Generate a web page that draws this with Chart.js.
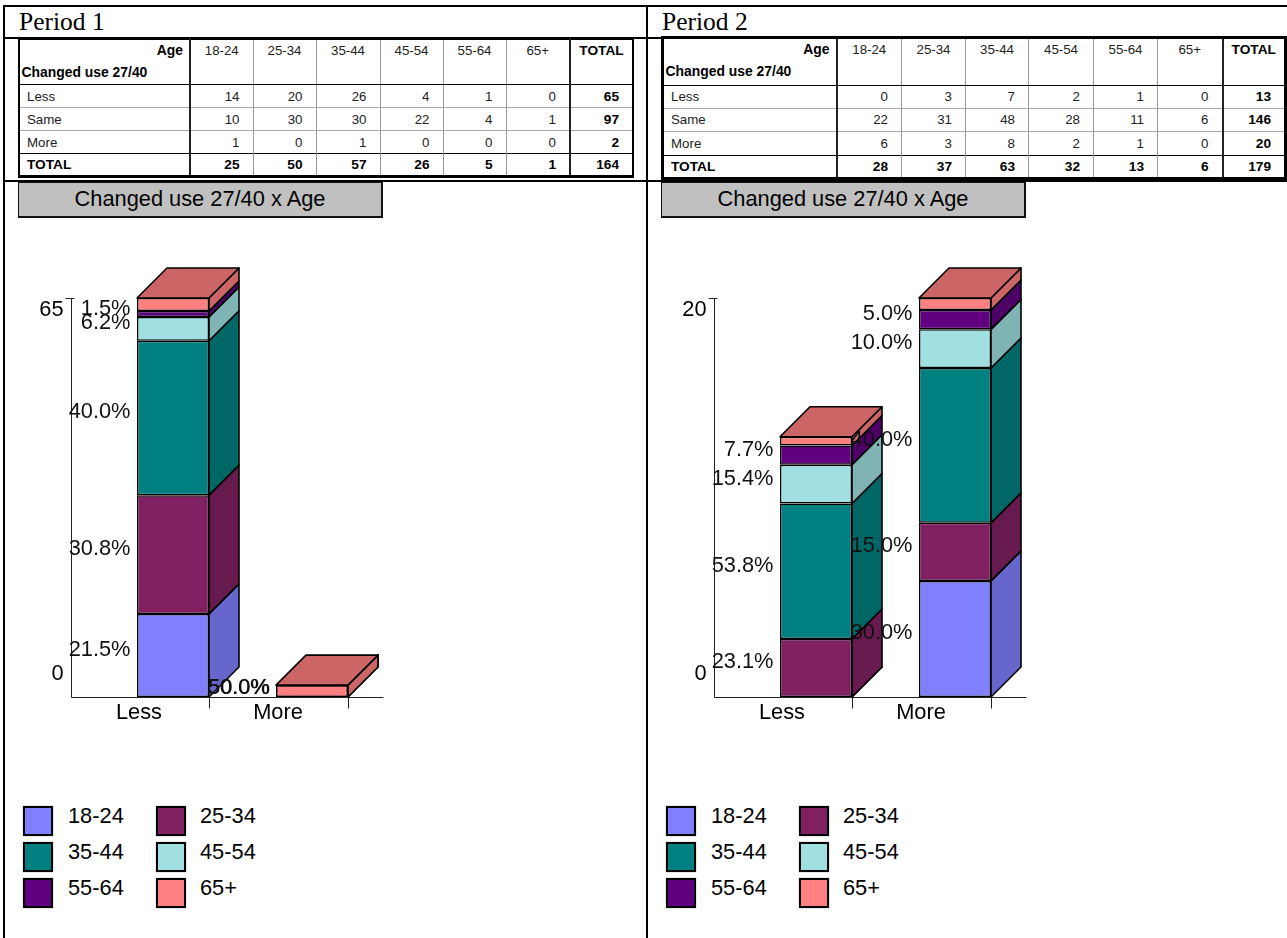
<!DOCTYPE html>
<html>
<head>
<meta charset="utf-8">
<title>Changed use 27/40 x Age</title>
<script src="https://cdn.jsdelivr.net/npm/chart.js@4"></script>
<style>
  html, body { margin: 0; padding: 0; background: #fff; overflow: hidden; }
  body { width: 1287px; height: 938px; position: relative; font-family: "Liberation Sans", Arial, sans-serif; color: #000; }
  .rule { position: absolute; background: #000; }
  .period { position: absolute; top: 8px; font: 25.5px/28px "Liberation Serif", serif; }
  .banner { position: absolute; top: 182px; width: 362px; height: 33px; background: #c0c0c0; border: 1.5px solid #111; border-right-width: 2px; border-bottom-width: 2px;
            font-size: 21.8px; line-height: 31px; text-align: center; }
  canvas { position: absolute; top: 230px; }
  table { position: absolute; border-collapse: collapse; table-layout: fixed; border: 2px solid #000; border-bottom-width: 3px; font-size: 13.3px; color: #222; }
  table.heavy { border-width: 3px; }
  td { padding: 0 13px 0 0; text-align: right; border-left: 1px solid #999; border-top: 1px solid #aaa; white-space: nowrap; overflow: hidden; }
  td:first-child { text-align: left; padding-left: 7px; border-left: 0; }
  td:last-child { border-left: 2px solid #222; font-weight: bold; font-size: 13.7px; color: #000; }
  td:nth-child(2) { border-left: 2px solid #222; }
  tr.head td { text-align: center; padding: 3px 0 0; vertical-align: top; border-top: 0; border-bottom: 1.5px solid #000; }
  tr.head td:first-child { text-align: left; padding: 3px 6px 0 1.5px; font-weight: bold; font-size: 13.9px; line-height: 15px; color: #000; }
  tr.head .age { text-align: right; margin-bottom: 7px; }
  tr.sum td { font-weight: bold; font-size: 13.7px; color: #000; border-top: 1.5px solid #000; }
  .key { position: absolute; width: 26px; height: 26px; border: 2px solid #000; box-shadow: 0 0 1px #777; }
  .keytext { position: absolute; font-size: 21.8px; line-height: 24px; }
</style>
</head>
<body>
<div class="rule" style="left:3px;top:5px;width:1284px;height:2px"></div>
<div class="rule" style="left:3px;top:37px;width:1284px;height:2px"></div>
<div class="rule" style="left:3px;top:180px;width:1284px;height:2px"></div>
<div class="rule" style="left:3px;top:5px;width:2px;height:933px"></div>
<div class="rule" style="left:646px;top:5px;width:2px;height:933px"></div>

<div class="period" style="left:19px">Period 1</div>
<div class="period" style="left:662px">Period 2</div>
<div class="banner" style="left:18px">Changed use 27/40 x Age</div>
<div class="banner" style="left:661px">Changed use 27/40 x Age</div>
<canvas id="period1" width="400" height="500" style="left:10px"></canvas>
<canvas id="period2" width="400" height="500" style="left:653px"></canvas>

<script>
const ageGroups = ["18-24", "25-34", "35-44", "45-54", "55-64", "65+"];
const useCategories = ["Less", "More"];

// counts per age group, last column is the row total
const p1Less = [14, 20, 26, 4, 1, 0, 65];
const p1Same = [10, 30, 30, 22, 4, 1, 97];
const p1More = [1, 0, 1, 0, 0, 0, 2];
const p1Total = [25, 50, 57, 26, 5, 1, 164];

const p2Less = [0, 3, 7, 2, 1, 0, 13];
const p2Same = [22, 31, 48, 28, 11, 6, 146];
const p2More = [6, 3, 8, 2, 1, 0, 20];
const p2Total = [28, 37, 63, 32, 13, 6, 179];

// 65+ has no counts but is still drawn as a thin slab: [from, to] for Less and More
const p1Slab = [[65, 67.2], [0, 2]];
const p2Slab = [[13, 13.45], [20, 20.62]];

const p1AxisMax = 67.2;
const p2AxisMax = 20.62;
const p1AxisLabels = ["0", "65"];
const p2AxisLabels = ["0", "20"];

const frontColors = ["#8080ff", "#802060", "#008080", "#a0e0e0", "#600080", "#ff8080"];
const sideColors = ["#6666cc", "#661a4d", "#006666", "#80b3b3", "#4d0066", "#cc6666"];
const DEPTH = 30;
const LABEL_FONT = '21.8px "Liberation Sans"';

Chart.defaults.font.family = '"Liberation Sans"';
Chart.defaults.color = "#000";

function face(ctx, points, fill) {
  ctx.beginPath();
  points.forEach((p, i) => (i ? ctx.lineTo(p[0], p[1]) : ctx.moveTo(p[0], p[1])));
  ctx.closePath();
  ctx.fillStyle = fill;
  ctx.fill();
  ctx.stroke();
}

// axis lines and the tick marks under each bar
const axesPlugin = {
  id: "axes",
  beforeDatasetsDraw(chart, args, opts) {
    const { ctx, chartArea } = chart;
    const axisX = Math.floor(chartArea.left - 32) + 0.5;
    const baseY = chartArea.bottom + 0.5;
    ctx.save();
    ctx.strokeStyle = "#222";
    ctx.lineWidth = 1;
    ctx.beginPath();
    ctx.moveTo(axisX, chartArea.top);
    ctx.lineTo(axisX, baseY);
    ctx.lineTo(chartArea.right + 2, baseY);
    ctx.moveTo(axisX - 6, chartArea.top + 0.5);
    ctx.lineTo(axisX + 3, chartArea.top + 0.5);
    chart.getDatasetMeta(0).data.forEach((bar) => {
      const tickX = Math.round(bar.x + bar.width / 2) + 0.5;
      ctx.moveTo(tickX, baseY);
      ctx.lineTo(tickX, baseY + 11);
    });
    ctx.stroke();

    ctx.font = LABEL_FONT;
    ctx.fillStyle = "#000";
    ctx.textAlign = "right";
    ctx.textBaseline = "middle";
    ctx.fillText(opts.labels[0], axisX - 8, chartArea.bottom - 23);
    ctx.fillText(opts.labels[1], axisX - 8, chartArea.top + 12);
    ctx.restore();
  },
};

// side and top faces of the extruded columns, then the share labels on top
const depthPlugin = {
  id: "depth",
  afterDatasetsDraw(chart) {
    const { ctx, data } = chart;
    const last = data.datasets.length - 1;
    const yScale = chart.scales.y;
    ctx.save();
    ctx.strokeStyle = "#000";
    ctx.lineWidth = 1.6;
    ctx.lineJoin = "round";
    data.datasets.forEach((ds, i) => {
      chart.getDatasetMeta(i).data.forEach((bar) => {
        const left = bar.x - bar.width / 2;
        const right = bar.x + bar.width / 2;
        const top = Math.min(bar.y, bar.base);
        const bottom = Math.max(bar.y, bar.base);
        face(ctx, [[right, bottom], [right + DEPTH, bottom - DEPTH], [right + DEPTH, top - DEPTH], [right, top]], sideColors[i]);
        if (i === last) {
          face(ctx, [[left, top], [left + DEPTH, top - DEPTH], [right + DEPTH, top - DEPTH], [right, top]], sideColors[i]);
        }
      });
    });

    ctx.font = LABEL_FONT;
    ctx.fillStyle = "#111";
    ctx.textAlign = "right";
    ctx.textBaseline = "middle";
    const counted = data.datasets.slice(0, last);
    counted.forEach((ds, i) => {
      chart.getDatasetMeta(i).data.forEach((bar, c) => {
        const value = ds.data[c];
        if (!value) return;
        const total = counted.reduce((sum, d) => sum + d.data[c], 0);
        const flat = yScale.getPixelForValue(0) - yScale.getPixelForValue(total) < 20;
        // a stack too flat to separate its labels gets them overprinted
        const y = flat ? yScale.getPixelForValue(0) - 9 : (bar.y + bar.base) / 2 - 5.5;
        const x = bar.x - bar.width / 2 - 6.5 + (flat ? i * 0.3 : 0);
        ctx.fillText((value / total * 100).toFixed(1) + "%", x, y);
      });
    });
    ctx.restore();
  },
};

function drawPeriod(canvasId, less, more, slab, axisMax, axisLabels) {
  const datasets = ageGroups.slice(0, 5).map((age, i) => ({
    label: age,
    data: [less[i], more[i]],
    backgroundColor: frontColors[i],
    stack: "counts",
  }));
  // the slab paints over whatever shares its span
  datasets.push({ label: ageGroups[5], data: slab, backgroundColor: frontColors[5], stack: "slab", order: -1 });

  return new Chart(document.getElementById(canvasId).getContext("2d"), {
    type: "bar",
    data: { labels: useCategories, datasets },
    plugins: [axesPlugin, depthPlugin],
    options: {
      responsive: false,
      animation: false,
      layout: { padding: { left: 93.5, right: 28.5, top: 68, bottom: 0 } },
      datasets: {
        bar: { grouped: false, categoryPercentage: 1, barPercentage: 72 / 139, borderColor: "#000", borderWidth: 1.5, borderSkipped: false },
      },
      plugins: {
        legend: { display: false },
        tooltip: { enabled: false },
        axes: { labels: axisLabels },
      },
      scales: {
        x: {
          stacked: true,
          grid: { display: false, drawTicks: false },
          border: { display: false },
          ticks: { font: { size: 21.8 }, padding: 3, labelOffset: -34, maxRotation: 0, autoSkip: false },
          afterFit(scale) { scale.height = 33; },
        },
        y: { stacked: true, display: false, min: 0, max: axisMax },
      },
    },
  });
}

drawPeriod("period1", p1Less, p1More, p1Slab, p1AxisMax, p1AxisLabels);
drawPeriod("period2", p2Less, p2More, p2Slab, p2AxisMax, p2AxisLabels);

function addTable(left, top, heavy, colWidths, rowHeights, rows) {
  const table = document.createElement("table");
  if (heavy) table.className = "heavy";
  table.style.left = left + "px";
  table.style.top = top + "px";
  table.style.width = colWidths.reduce((a, b) => a + b, 0) + "px";
  const cols = document.createElement("colgroup");
  colWidths.forEach((w) => {
    const col = document.createElement("col");
    col.style.width = w + "px";
    cols.appendChild(col);
  });
  table.appendChild(cols);

  const head = table.insertRow();
  head.className = "head";
  head.style.height = rowHeights[0] + "px";
  head.insertCell().innerHTML = '<div class="age">Age</div><div>Changed use 27/40</div>';
  ageGroups.concat("TOTAL").forEach((name) => {
    head.insertCell().textContent = name;
  });

  rows.forEach((row, r) => {
    const tr = table.insertRow();
    tr.style.height = rowHeights[r + 1] + "px";
    if (row.name === "TOTAL") tr.className = "sum";
    tr.insertCell().textContent = row.name;
    row.values.forEach((v) => {
      tr.insertCell().textContent = v;
    });
  });
  document.body.appendChild(table);
}

addTable(18, 38, false, [171, 63, 63, 64, 63, 63, 64, 63], [45.5, 23, 23, 23, 22.5], [
  { name: "Less", values: p1Less },
  { name: "Same", values: p1Same },
  { name: "More", values: p1More },
  { name: "TOTAL", values: p1Total },
]);
addTable(661, 36, true, [174, 65, 64, 63, 65, 64, 65, 63], [47.5, 23, 23.5, 23.5, 23], [
  { name: "Less", values: p2Less },
  { name: "Same", values: p2Same },
  { name: "More", values: p2More },
  { name: "TOTAL", values: p2Total },
]);

// legend keys in two columns under each chart
function addLegend(offsetX) {
  ageGroups.forEach((age, i) => {
    const col = i % 2;
    const row = Math.floor(i / 2);
    const key = document.createElement("div");
    key.className = "key";
    key.style.left = offsetX + 23 + col * 133 + "px";
    key.style.top = 806 + row * 36 + "px";
    key.style.background = frontColors[i];
    document.body.appendChild(key);

    const text = document.createElement("div");
    text.className = "keytext";
    text.textContent = age;
    text.style.left = offsetX + 68 + col * 132 + "px";
    text.style.top = 804 + row * 36 + "px";
    document.body.appendChild(text);
  });
}
addLegend(0);
addLegend(643);
</script>
</body>
</html>
